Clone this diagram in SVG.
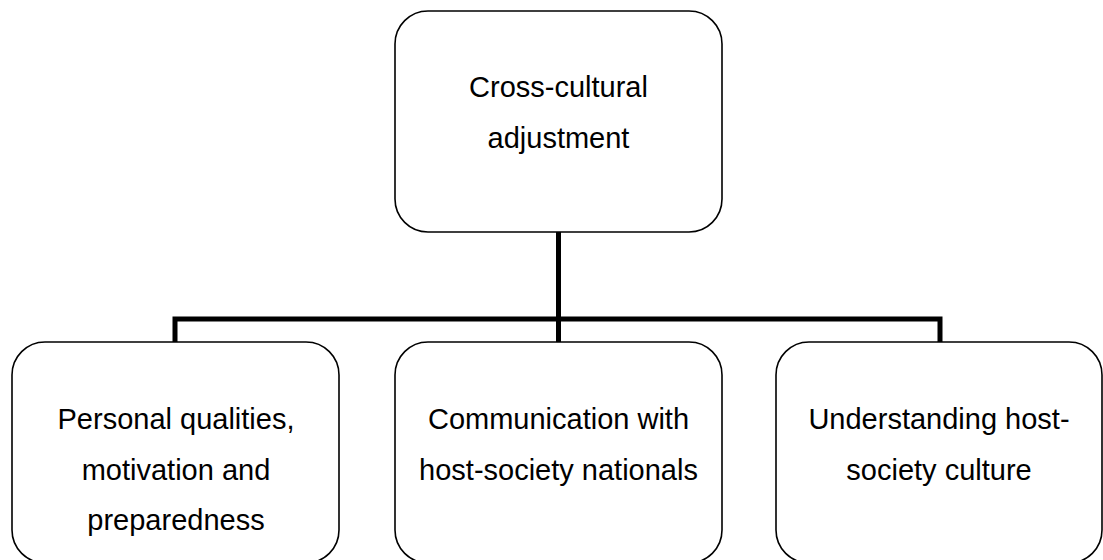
<svg xmlns="http://www.w3.org/2000/svg" width="1103" height="560" viewBox="0 0 1103 560">
  <style>
    .box { fill: #ffffff; stroke: #000000; stroke-width: 1.6; }
    .lbl { font-family: "Liberation Sans", Arial, sans-serif; font-size: 29px; fill: #000000; text-anchor: middle; }
    .conn { fill: none; stroke: #000000; stroke-width: 5; stroke-linecap: butt; stroke-linejoin: miter; }
  </style>
  <rect x="0" y="0" width="1103" height="560" fill="#ffffff"/>
  <g id="connectors">
    <path class="conn" d="M558.5,232 V342"/>
    <path class="conn" d="M175,342 V319 H940 V342"/>
  </g>
  <g id="node-top">
    <rect class="box" x="395" y="11" width="327" height="221" rx="33" ry="33"/>
    <text class="lbl" x="558.5" y="97">Cross-cultural</text>
    <text class="lbl" x="558.5" y="148">adjustment</text>
  </g>
  <g id="node-personal">
    <rect class="box" x="12" y="342" width="327" height="221" rx="33" ry="33"/>
    <text class="lbl" x="176" y="429">Personal qualities,</text>
    <text class="lbl" x="176" y="480">motivation and</text>
    <text class="lbl" x="176" y="530">preparedness</text>
  </g>
  <g id="node-communication">
    <rect class="box" x="395" y="342" width="327" height="221" rx="33" ry="33"/>
    <text class="lbl" x="558.5" y="429">Communication with</text>
    <text class="lbl" x="558.5" y="480">host-society nationals</text>
  </g>
  <g id="node-understanding">
    <rect class="box" x="776" y="342" width="326" height="221" rx="33" ry="33"/>
    <text class="lbl" x="939" y="429">Understanding host-</text>
    <text class="lbl" x="939" y="480">society culture</text>
  </g>
</svg>
